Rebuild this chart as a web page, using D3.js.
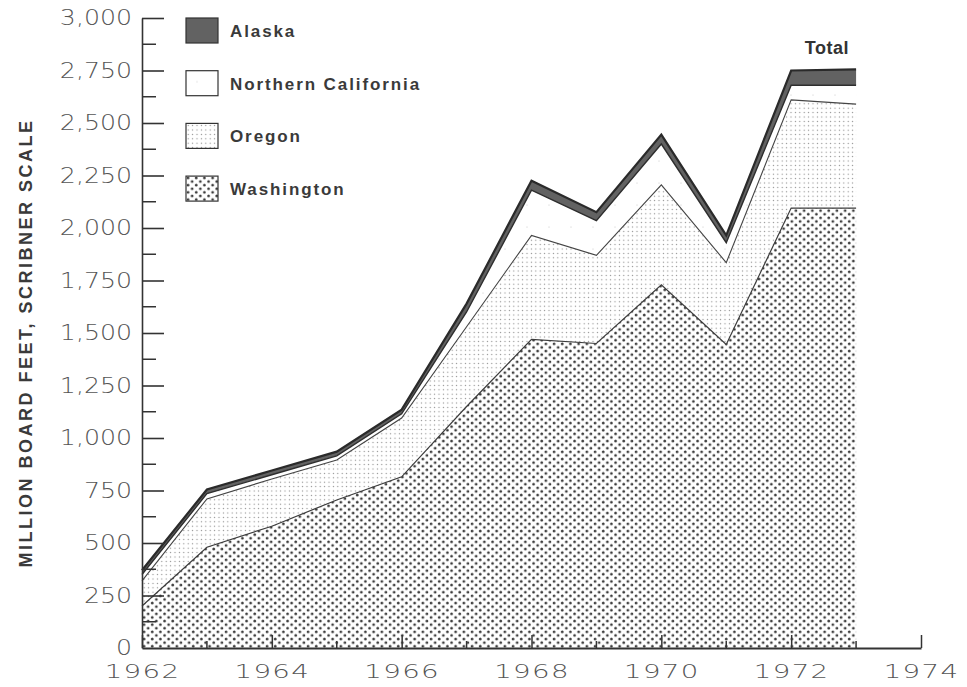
<!DOCTYPE html>
<html>
<head>
<meta charset="utf-8">
<script src="https://cdn.jsdelivr.net/npm/d3@7"></script>
<style>
  body { margin: 0; background: #fff; }
  svg text { fill: #333; }
</style>
</head>
<body>
<div id="chart"></div>
<script>
// data (million board feet, Scribner scale)
const years = [1962, 1963, 1964, 1965, 1966, 1967, 1968, 1969, 1970, 1971, 1972, 1973];
const washington = [200, 480, 580, 705, 815, 1150, 1470, 1450, 1730, 1445, 2095, 2095];
const oregon = [120, 230, 225, 190, 280, 380, 495, 420, 475, 390, 515, 495];
const northernCalifornia = [30, 25, 20, 20, 20, 70, 215, 165, 195, 95, 70, 90];
const alaska = [20, 20, 20, 20, 20, 40, 45, 40, 45, 35, 70, 75];

const seriesKeys = ["washington", "oregon", "nCal", "alaska"];
const legendLabels = ["Alaska", "Northern California", "Oregon", "Washington"];
const legendKeys = ["alaska", "nCal", "oregon", "washington"];
const yTicks = [0, 250, 500, 750, 1000, 1250, 1500, 1750, 2000, 2250, 2500, 2750, 3000];
const xTicks = [1962, 1964, 1966, 1968, 1970, 1972, 1974];

// set the dimensions and margins of the graph
const margin = { top: 18, right: 46, bottom: 39, left: 142 },
    width = 967 - margin.left - margin.right,
    height = 687 - margin.top - margin.bottom;

const root = d3.select("#chart")
    .append("svg")
    .attr("width", width + margin.left + margin.right)
    .attr("height", height + margin.top + margin.bottom);

// fill patterns
const defs = root.append("defs");
const pw = defs.append("pattern").attr("id", "pat-wa")
    .attr("patternUnits", "userSpaceOnUse").attr("width", 8.2).attr("height", 7.2);
pw.append("circle").attr("cx", 2.05).attr("cy", 1.8).attr("r", 1.4).attr("fill", "#3c3c3c");
pw.append("circle").attr("cx", 6.15).attr("cy", 5.4).attr("r", 1.4).attr("fill", "#3c3c3c");

const po = defs.append("pattern").attr("id", "pat-or")
    .attr("patternUnits", "userSpaceOnUse").attr("width", 4.4).attr("height", 4.4);
po.append("circle").attr("cx", 2.2).attr("cy", 2.2).attr("r", 0.65).attr("fill", "#8a8a8a");

const pn = defs.append("pattern").attr("id", "pat-nc")
    .attr("patternUnits", "userSpaceOnUse").attr("width", 22).attr("height", 22);
pn.append("rect").attr("width", 22).attr("height", 22).attr("fill", "#fff");
pn.append("circle").attr("cx", 11).attr("cy", 11).attr("r", 0.5).attr("fill", "#bbb");

const fills = {
    washington: "url(#pat-wa)",
    oregon: "url(#pat-or)",
    nCal: "url(#pat-nc)",
    alaska: "#626262"
};

const svg = root.append("g")
    .attr("transform", `translate(${margin.left},${margin.top})`);

const x = d3.scaleLinear().domain([1962, 1974]).range([0, width]);
const y = d3.scaleLinear().domain([0, 3000]).range([height, 0]);

// build the table for the stack
const table = years.map((yr, i) => ({
    year: yr,
    washington: washington[i],
    oregon: oregon[i],
    nCal: northernCalifornia[i],
    alaska: alaska[i]
}));

const stacked = d3.stack().keys(seriesKeys)(table);

const area = d3.area()
    .x(d => x(d.data.year))
    .y0(d => y(d[0]))
    .y1(d => y(d[1]));

const topLine = d3.line()
    .x(d => x(d.data.year))
    .y(d => y(d[1]));

svg.append("g")
    .selectAll("path")
    .data(stacked)
    .enter().append("path")
    .attr("d", area)
    .attr("fill", d => fills[d.key]);

// boundary lines
const lineStyle = {
    washington: { c: "#3c3c3c", w: 1.2 },
    oregon: { c: "#444", w: 1.1 },
    nCal: { c: "#2e2e2e", w: 1.4 },
    alaska: { c: "#2a2a2a", w: 2.2 }
};
svg.append("g")
    .selectAll("path")
    .data(stacked)
    .enter().append("path")
    .attr("d", topLine)
    .attr("fill", "none")
    .attr("stroke", d => lineStyle[d.key].c)
    .attr("stroke-width", d => lineStyle[d.key].w)
    .attr("stroke-linejoin", "miter");

// Y axis: ticks point inward, major + minor
const yAxis = svg.append("g")
    .call(d3.axisLeft(y).tickValues(yTicks).tickSizeInner(-22).tickSizeOuter(0).tickPadding(10).tickFormat(d3.format(",")));
yAxis.select(".domain").attr("stroke", "#333").attr("stroke-width", 1.6);
yAxis.selectAll(".tick line").attr("stroke", "#333").attr("stroke-width", 1.6);
yAxis.selectAll(".tick text")
    .attr("x", 0)
    .attr("transform", "translate(-10,0) scale(1.2,1)")
    .attr("text-anchor", "end")
    .style("font-family", "'DejaVu Sans'")
    .style("font-weight", 200)
    .style("font-size", "21px")
    .style("fill", "#555");
yAxis.selectAll(".tick").filter(d => d === 0).select("line").remove();

const yMinor = d3.range(125, 3000, 250);
svg.append("g")
    .selectAll("line")
    .data(yMinor)
    .enter().append("line")
    .attr("x1", 0).attr("x2", 14)
    .attr("y1", d => y(d)).attr("y2", d => y(d))
    .attr("stroke", "#333").attr("stroke-width", 1.5);

// X axis
const xAxis = svg.append("g")
    .attr("transform", `translate(0,${height})`)
    .call(d3.axisBottom(x).tickValues(xTicks).tickSizeInner(-13).tickSizeOuter(0).tickPadding(16).tickFormat(d3.format("d")));
xAxis.select(".domain").attr("stroke", "#333").attr("stroke-width", 1.8);
xAxis.selectAll(".tick line").attr("stroke", "#333").attr("stroke-width", 1.5);
xAxis.selectAll(".tick text")
    .attr("transform", "scale(1.38,1)")
    .style("font-family", "'DejaVu Sans'")
    .style("font-weight", 200)
    .style("font-size", "20px")
    .style("letter-spacing", "1px")
    .style("fill", "#555");

const xMinor = d3.range(1963, 1974, 2);
svg.append("g")
    .selectAll("line")
    .data(xMinor)
    .enter().append("line")
    .attr("x1", d => x(d)).attr("x2", d => x(d))
    .attr("y1", height).attr("y2", height - 7)
    .attr("stroke", "#333").attr("stroke-width", 1.5);

// y axis title
root.append("text")
    .attr("transform", `translate(32,343) rotate(-90)`)
    .attr("text-anchor", "middle")
    .style("font-family", "'Liberation Sans', Arial, sans-serif")
    .style("font-weight", "bold")
    .style("font-size", "18px")
    .style("letter-spacing", "2.5px")
    .style("fill", "#3a3a3a")
    .text("MILLION BOARD FEET, SCRIBNER SCALE");

// legend
const legend = svg.append("g").attr("transform", "translate(44,0)");
const item = legend.selectAll("g")
    .data(legendKeys)
    .enter().append("g")
    .attr("transform", (d, i) => `translate(0,${i * 52.7})`);
item.append("rect")
    .attr("width", 32).attr("height", 25)
    .attr("fill", d => fills[d])
    .attr("stroke", "#333").attr("stroke-width", 1.2);
item.append("text")
    .attr("x", 44).attr("y", 19)
    .style("font-family", "'Liberation Sans', Arial, sans-serif")
    .style("font-size", "17px")
    .style("font-weight", "bold")
    .style("letter-spacing", "1.9px")
    .style("fill", "#3a3a3a")
    .text((d, i) => legendLabels[i]);

// total label
const last = stacked[stacked.length - 1];
svg.append("text")
    .attr("x", x(1972.55))
    .attr("y", y(last[last.length - 2][1]) - 17)
    .attr("text-anchor", "middle")
    .style("font-family", "'Liberation Sans', Arial, sans-serif")
    .style("font-weight", "bold")
    .style("font-size", "18px")
    .style("letter-spacing", "0.5px")
    .text("Total");
</script>
</body>
</html>
